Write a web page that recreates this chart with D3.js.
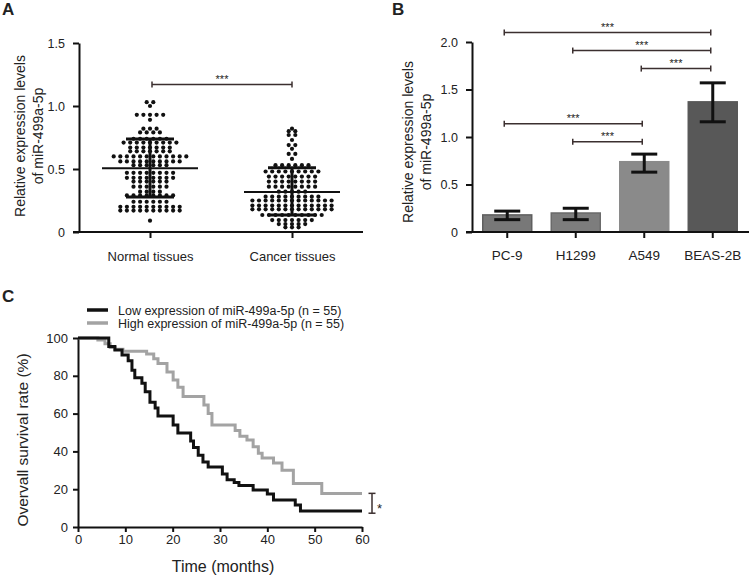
<!DOCTYPE html>
<html>
<head>
<meta charset="utf-8">
<script src="https://cdn.jsdelivr.net/npm/d3@7"></script>
<style>
  body { margin: 0; background: white; }
  text { font-family: "Liberation Sans", Arial, sans-serif; fill: #222; }
</style>
</head>
<body>
<div id="container"></div>
<script>
/* DATA */
// panel A: scatter rows (value level, number of dots at that level)
const groupsA = ["Normal tissues", "Cancer tissues"];
const normalLevels = [1.03, 1.0, 0.93, 0.89, 0.82, 0.79, 0.74, 0.71, 0.67, 0.64, 0.6, 0.56, 0.53, 0.47, 0.43, 0.4, 0.36, 0.32, 0.29, 0.24, 0.2, 0.17, 0.09];
const normalCounts = [2, 1, 5, 1, 3, 4, 6, 9, 7, 7, 12, 10, 6, 8, 8, 6, 6, 4, 8, 6, 10, 10, 1];
const cancerLevels = [0.82, 0.8, 0.77, 0.73, 0.69, 0.66, 0.62, 0.58, 0.53, 0.48, 0.44, 0.4, 0.36, 0.32, 0.28, 0.25, 0.21, 0.18, 0.135, 0.095, 0.063, 0.037];
const cancerCounts = [1, 2, 2, 1, 2, 1, 2, 1, 6, 9, 8, 8, 8, 5, 9, 13, 13, 13, 10, 7, 5, 3];
const meansA = [0.505, 0.317];
const sdLowA = [0.278, 0.135];
const sdHighA = [0.738, 0.51];
const ticksA = [0, 0.5, 1.0, 1.5];

// panel B: bars
const cellsB = ["PC-9", "H1299", "A549", "BEAS-2B"];
const valuesB = [0.18, 0.2, 0.74, 1.37];
const errLowB = [0.13, 0.13, 0.63, 1.16];
const errHighB = [0.22, 0.25, 0.82, 1.57];
const ticksB = [0, 0.5, 1.0, 1.5, 2.0];
// comparisons: [from, to, y value]
const compB = [["PC-9", "BEAS-2B", 2.1], ["H1299", "BEAS-2B", 1.91], ["A549", "BEAS-2B", 1.72], ["PC-9", "A549", 1.14], ["H1299", "A549", 0.95]];

// panel C: Kaplan-Meier steps
const lowTime = [0, 6.5, 7.8, 9.3, 10.6, 11.4, 12, 13.5, 14.2, 15.2, 16.3, 16.9, 20.1, 21.1, 23.8, 24.4, 25.4, 26.4, 27.5, 30.5, 31.5, 33, 34, 37, 40, 41.3, 45.9, 47, 60];
const lowSurv = [100, 95.5, 93.6, 91, 88, 83, 79, 76, 71.5, 66, 63, 58.7, 54, 49.7, 45.5, 42, 38, 34.4, 31.7, 28, 25, 23.6, 22, 19.6, 17.5, 14.3, 11.6, 8.5, 8.5];
const highTime = [0, 4.2, 5.7, 6.8, 7.8, 9.5, 14.5, 16, 16.9, 18.8, 20.1, 21.1, 22.2, 26.6, 27.5, 28.3, 33.2, 34.2, 35.7, 37, 38.1, 38.9, 41.3, 43.1, 45.5, 51.5, 60];
const highSurv = [100, 99, 97, 95, 94, 93, 91.5, 89, 86.5, 82, 77.8, 74, 69, 64.5, 60, 54, 51, 48, 46, 42.5, 39, 36.5, 33.8, 30, 23, 17.7, 17.7];
const legendC = ["Low expression of miR-499a-5p (n = 55)", "High expression of miR-499a-5p (n = 55)"];
const ticksCx = [0, 10, 20, 30, 40, 50, 60];
const ticksCy = [0, 20, 40, 60, 80, 100];

/* CONSTANTS */
const width = 751, height = 578;
const dotStep = 6.6;

const svg = d3.select("#container")
  .append("svg")
  .attr("width", width)
  .attr("height", height)
  .style("background-color", "white");

function styleAxis(g, size) {
  g.select(".domain").attr("stroke", "#111").attr("stroke-width", 2);
  g.selectAll(".tick line").attr("stroke", "#111").attr("stroke-width", 2);
  g.selectAll("text").style("font-size", size + "px").attr("fill", "#222")
    .style("font-family", "'Liberation Sans', Arial, sans-serif");
}
const fmt1 = d => d === 0 ? "0" : d3.format(".1f")(d);

function panelLetter(txt, x, y) {
  svg.append("text").attr("x", x).attr("y", y).text(txt)
    .style("font-size", "17px").style("font-weight", "bold").attr("fill", "#111");
}

function sigBar(x1, x2, y, label, color) {
  const g = svg.append("g").attr("stroke", "#3b2f2f").attr("stroke-width", 1.5);
  g.append("line").attr("x1", x1).attr("x2", x2).attr("y1", y).attr("y2", y);
  g.append("line").attr("x1", x1).attr("x2", x1).attr("y1", y - 3).attr("y2", y + 3);
  g.append("line").attr("x1", x2).attr("x2", x2).attr("y1", y - 3).attr("y2", y + 3);
  svg.append("text").attr("x", (x1 + x2) / 2).attr("y", y - 2).attr("text-anchor", "middle")
    .text(label).style("font-size", "11px").attr("fill", color || "#555");
}

/* PANEL A */
panelLetter("A", 2, 15);
const yA = d3.scaleLinear().domain([0, 1.5]).range([232, 43]);
const xA = d3.scalePoint().domain(groupsA).range([150, 292]);

const gAy = svg.append("g").attr("transform", "translate(79,0)")
  .call(d3.axisLeft(yA).tickValues(ticksA).tickSize(6).tickSizeOuter(0).tickPadding(8).tickFormat(fmt1));
styleAxis(gAy, 12.5);
const gAx = svg.append("g").attr("transform", "translate(0,232)")
  .call(d3.axisBottom(xA).tickSize(6).tickSizeOuter(0).tickPadding(14));
gAx.select(".domain").remove();
gAx.append("line").attr("x1", 73).attr("x2", 363).attr("stroke", "#111").attr("stroke-width", 2);
styleAxis(gAx, 13);

svg.append("text").attr("transform", "translate(25,136) rotate(-90)").attr("text-anchor", "middle")
  .style("font-size", "14px")
  .selectAll("tspan").data(["Relative expression levels", "of miR-499a-5p"]).join("tspan")
  .attr("x", 0).attr("dy", (d, i) => i === 0 ? 0 : 18).text(d => d);

// dots laid out in rows around the group centre
function rows(levels, counts, group) {
  const pts = [];
  levels.forEach((v, i) => {
    const n = counts[i];
    for (let k = 0; k < n; k++) {
      pts.push({ group, v, off: (k - (n - 1) / 2) * dotStep });
    }
  });
  return pts;
}
const dotsA = rows(normalLevels, normalCounts, groupsA[0]).concat(rows(cancerLevels, cancerCounts, groupsA[1]));
svg.selectAll(".dotA").data(dotsA).join("circle").attr("class", "dotA")
  .attr("cx", d => xA(d.group) + d.off)
  .attr("cy", d => yA(d.v))
  .attr("r", 2.1)
  .attr("fill", "#111");

groupsA.forEach((gname, i) => {
  const cx = xA(gname);
  svg.append("line").attr("x1", cx - 48).attr("x2", cx + 48).attr("y1", yA(meansA[i])).attr("y2", yA(meansA[i]))
    .attr("stroke", "#111").attr("stroke-width", 2);
  svg.append("line").attr("x1", cx).attr("x2", cx).attr("y1", yA(sdLowA[i])).attr("y2", yA(sdHighA[i]))
    .attr("stroke", "#111").attr("stroke-width", 3);
  [sdLowA[i], sdHighA[i]].forEach(v => {
    svg.append("line").attr("x1", cx - 24).attr("x2", cx + 24).attr("y1", yA(v)).attr("y2", yA(v))
      .attr("stroke", "#111").attr("stroke-width", 3);
  });
});
sigBar(xA(groupsA[0]) + 2, xA(groupsA[1]), yA(1.17), "***");

/* PANEL B */
panelLetter("B", 392, 15);
const yB = d3.scaleLinear().domain([0, 2]).range([232, 42]);
const xB = d3.scaleBand().domain(cellsB).range([472, 748]).paddingInner(0.285).paddingOuter(0.157);
const colorB = d3.scaleOrdinal().domain(cellsB).range(["#787878", "#7d7d7d", "#8a8a8a", "#585858"]);
const strokeB = d3.scaleOrdinal().domain(cellsB).range(["#5f5f5f", "#6a6a6a", "#8a8a8a", "#585858"]);

svg.selectAll(".bar").data(cellsB).join("rect").attr("class", "bar")
  .attr("x", d => xB(d))
  .attr("width", xB.bandwidth())
  .attr("y", (d, i) => yB(valuesB[i]))
  .attr("height", (d, i) => yB(0) - yB(valuesB[i]))
  .attr("fill", d => colorB(d))
  .attr("stroke", d => strokeB(d)).attr("stroke-width", 1.5);

cellsB.forEach((c, i) => {
  const cx = xB(c) + xB.bandwidth() / 2;
  svg.append("line").attr("x1", cx).attr("x2", cx).attr("y1", yB(errLowB[i])).attr("y2", yB(errHighB[i]))
    .attr("stroke", "#111").attr("stroke-width", 3);
  [errLowB[i], errHighB[i]].forEach(v => {
    svg.append("line").attr("x1", cx - 13).attr("x2", cx + 13).attr("y1", yB(v)).attr("y2", yB(v))
      .attr("stroke", "#111").attr("stroke-width", 3);
  });
});

const gBy = svg.append("g").attr("transform", "translate(472,0)")
  .call(d3.axisLeft(yB).tickValues(ticksB).tickSize(6).tickSizeOuter(0).tickPadding(8).tickFormat(fmt1));
styleAxis(gBy, 12.5);
const gBx = svg.append("g").attr("transform", "translate(0,232)")
  .call(d3.axisBottom(xB).tickSize(6).tickSizeOuter(0).tickPadding(12));
gBx.select(".domain").remove();
gBx.append("line").attr("x1", 466).attr("x2", 749).attr("stroke", "#111").attr("stroke-width", 2);
styleAxis(gBx, 13.5);

svg.append("text").attr("transform", "translate(413,142) rotate(-90)").attr("text-anchor", "middle")
  .style("font-size", "14px")
  .selectAll("tspan").data(["Relative expression levels", "of miR-499a-5p"]).join("tspan")
  .attr("x", 0).attr("dy", (d, i) => i === 0 ? 0 : 18).text(d => d);

compB.forEach(([a, b, v]) => {
  sigBar(xB(a) + xB.bandwidth() / 2 - 3, xB(b) + xB.bandwidth() / 2 - 2, yB(v), "***");
});

/* PANEL C */
panelLetter("C", 2, 302);
const xC = d3.scaleLinear().domain([0, 60]).range([78, 362]);
const yC = d3.scaleLinear().domain([0, 100]).range([527, 338]);

const gCy = svg.append("g").attr("transform", "translate(78,0)")
  .call(d3.axisLeft(yC).tickValues(ticksCy).tickSize(5).tickSizeOuter(0).tickPadding(5));
styleAxis(gCy, 13);
const gCx = svg.append("g").attr("transform", "translate(0,527)")
  .call(d3.axisBottom(xC).tickValues(ticksCx).tickSize(5).tickSizeOuter(0).tickPadding(3));
styleAxis(gCx, 13);

svg.append("text").attr("x", 223).attr("y", 572).attr("text-anchor", "middle")
  .style("font-size", "16px").text("Time (months)");
svg.append("text").attr("transform", "translate(28,440) rotate(-90)").attr("text-anchor", "middle")
  .style("font-size", "15.5px").text("Overvall survival rate (%)");

const km = d3.line().x(d => xC(d[0])).y(d => yC(d[1])).curve(d3.curveStepAfter);
const lowPts = lowTime.map((t, i) => [t, lowSurv[i]]);
const highPts = highTime.map((t, i) => [t, highSurv[i]]);
const colorC = d3.scaleOrdinal().domain(legendC).range(["#111111", "#a3a3a3"]);

svg.append("path").attr("d", km(highPts)).attr("fill", "none").attr("stroke", colorC(legendC[1])).attr("stroke-width", 3);
svg.append("path").attr("d", km(lowPts)).attr("fill", "none").attr("stroke", colorC(legendC[0])).attr("stroke-width", 3);

const leg = svg.selectAll(".leg").data(legendC).join("g").attr("class", "leg")
  .attr("transform", (d, i) => `translate(87,${310 + i * 13})`);
leg.append("line").attr("x1", 0).attr("x2", 21).attr("stroke", d => colorC(d)).attr("stroke-width", 3.5);
leg.append("text").attr("x", 31).attr("y", 4.5).style("font-size", "12.5px").text(d => d);

// significance bracket at the right end
const bx = xC(60) + 10;
const bg = svg.append("g").attr("stroke", "#3b2f2f").attr("stroke-width", 1.5);
bg.append("line").attr("x1", bx).attr("x2", bx).attr("y1", yC(17.8)).attr("y2", yC(7.3));
bg.append("line").attr("x1", bx - 3.5).attr("x2", bx + 3.5).attr("y1", yC(17.8)).attr("y2", yC(17.8));
bg.append("line").attr("x1", bx - 3.5).attr("x2", bx + 3.5).attr("y1", yC(7.3)).attr("y2", yC(7.3));
svg.append("text").attr("x", bx + 5).attr("y", yC(7.5)).style("font-size", "13px").attr("fill", "#333").text("*");
</script>
</body>
</html>
